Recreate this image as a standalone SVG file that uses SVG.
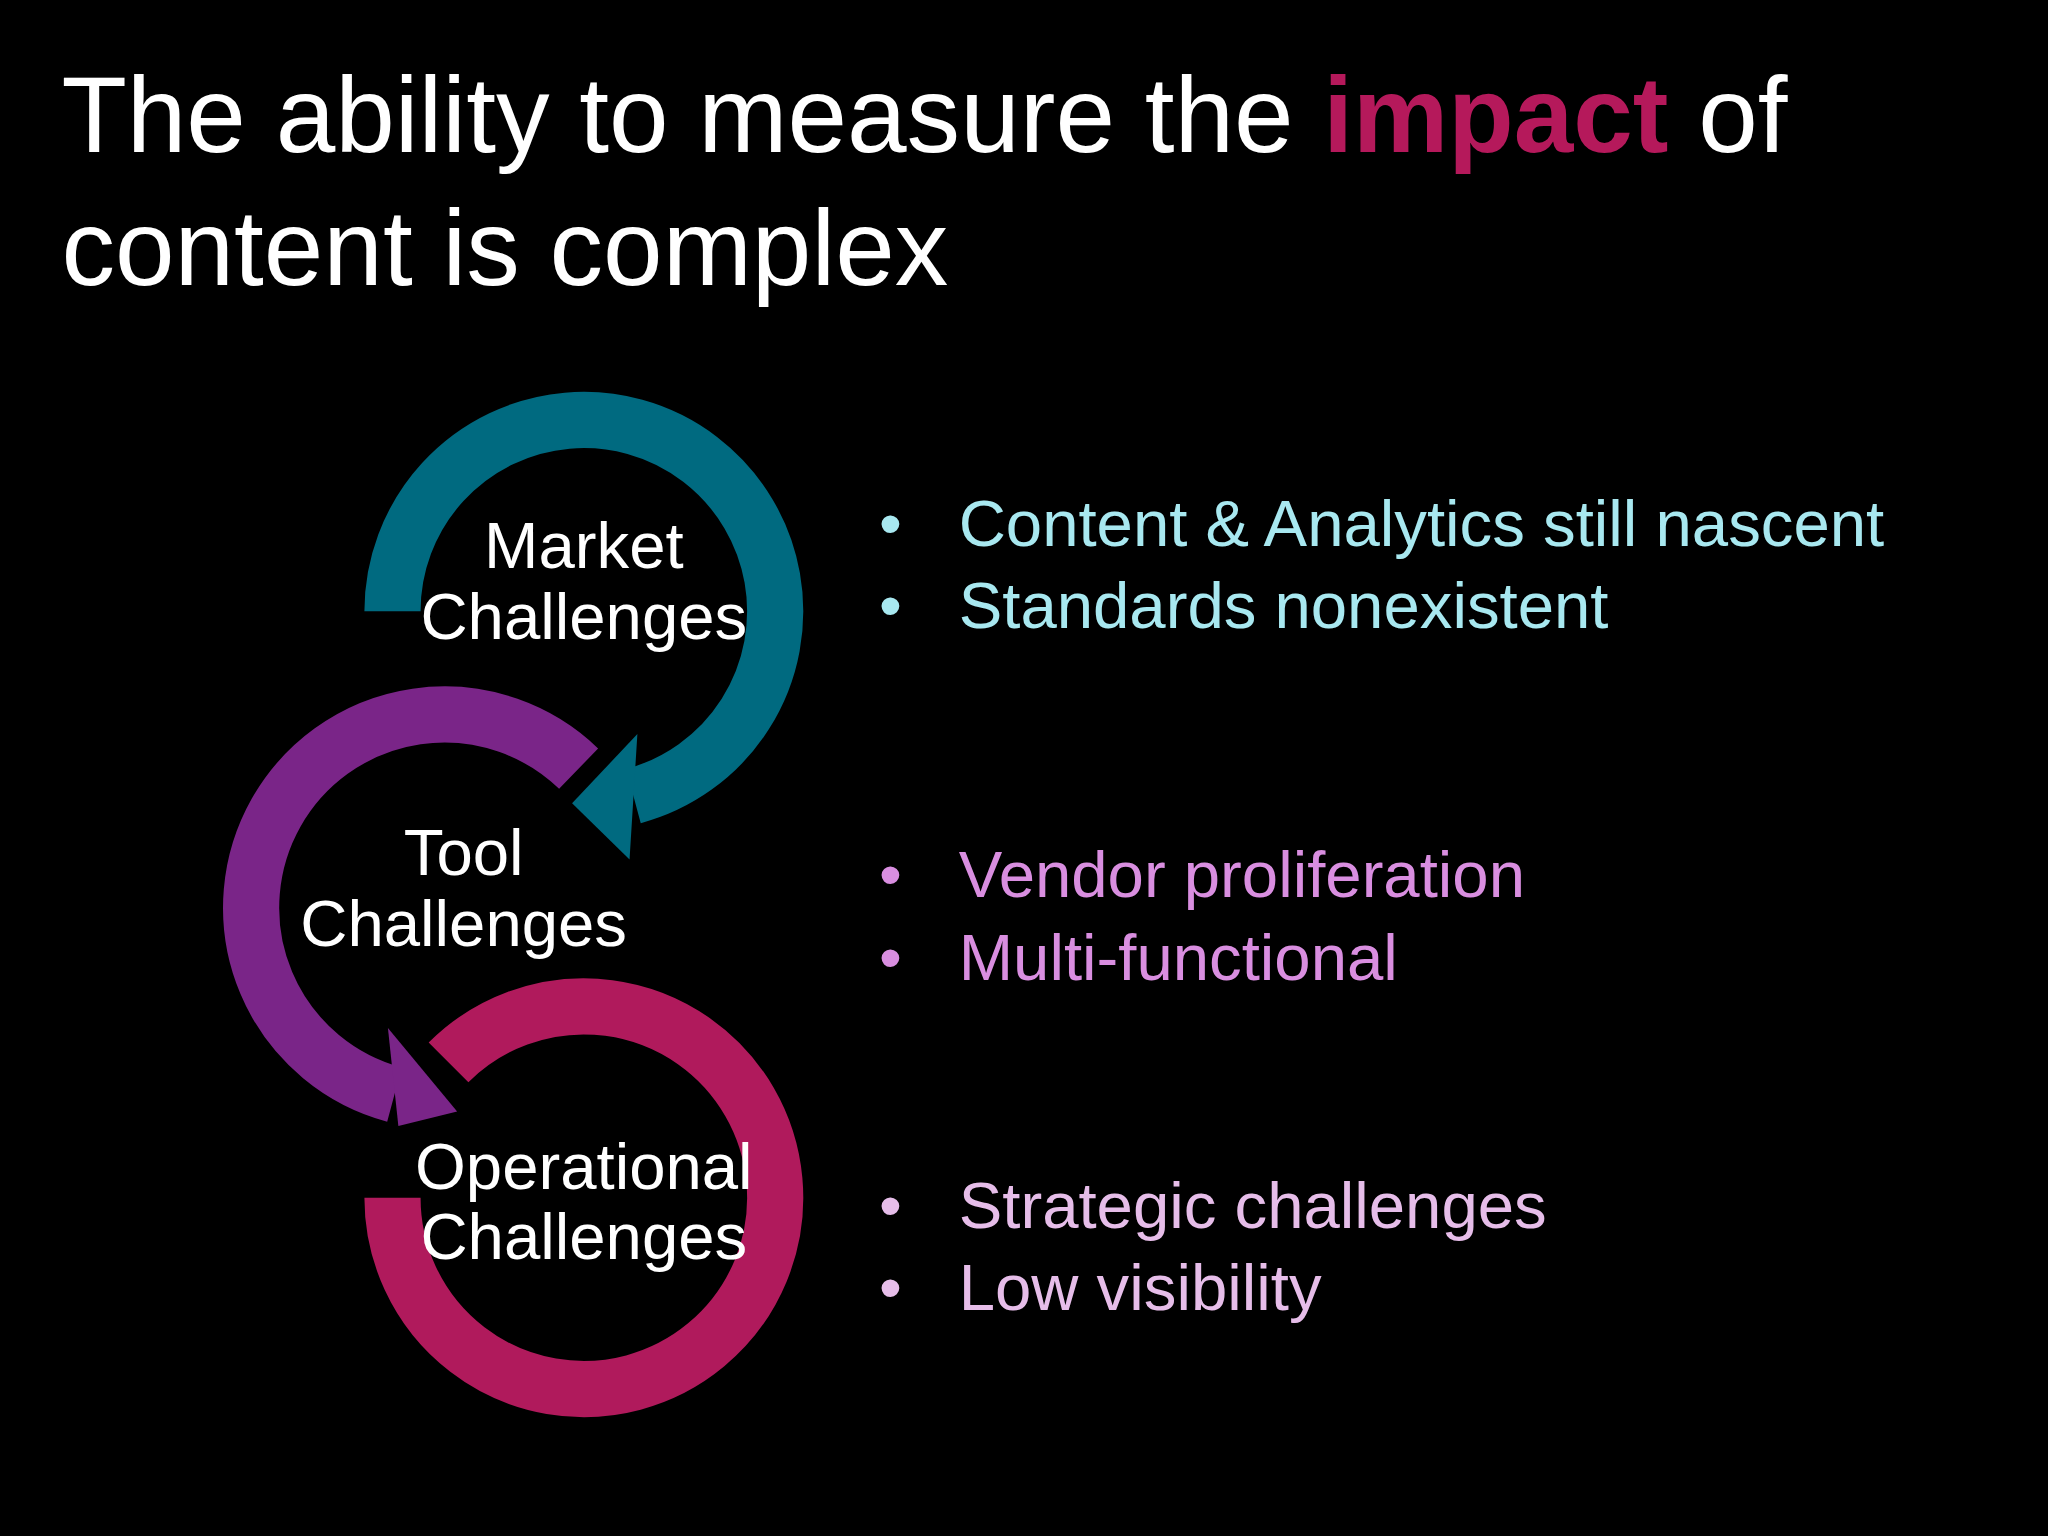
<svg xmlns="http://www.w3.org/2000/svg" width="2048" height="1536" viewBox="0 0 2048 1536">
<style>
text{font-family:"Liberation Sans",Arial,sans-serif}
.t{fill:#fff;font-size:82px}
.l{fill:#fff;font-size:50px;text-anchor:middle}
.b{font-size:50px}
.ring{fill:none;stroke-width:43}
</style>
<rect width="2048" height="1536" fill="#000"/>
<g transform="scale(1.30612)">
<g id="title">
<text class="t" x="47" y="116">The ability to measure the <tspan fill="#b5195b" font-weight="bold">impact</tspan> of</text>
<text class="t" x="47" y="218">content is complex</text>
</g>
<g id="connectors">
<path class="ring" stroke="#006a80" d="M300.5,468 A146.5,146.5 0 1 1 485,609.5"/>
<polygon fill="#006a80" points="488,562 438,615 482,658"/>
<path class="ring" stroke="#7a2588" d="M443,588.5 A148,148 0 1 0 302,838"/>
<polygon fill="#7a2588" points="297,787 350,851 305,862"/>
<path class="ring" stroke="#b01a5c" d="M343.4,813.4 A146.5,146.5 0 1 1 300.5,917"/>
</g>
<g id="market"><text class="l" x="447" y="435">Market</text><text class="l" x="447" y="489">Challenges</text></g>
<g id="tool"><text class="l" x="355" y="670">Tool</text><text class="l" x="355" y="724">Challenges</text></g>
<g id="operational"><text class="l" x="447" y="910">Operational</text><text class="l" x="447" y="964">Challenges</text></g>
<g id="bullets1" fill="#a8e8f0"><text class="b" x="673" y="418">•</text><text class="b" x="734" y="418">Content &amp; Analytics still nascent</text><text class="b" x="673" y="481">•</text><text class="b" x="734" y="481">Standards nonexistent</text></g>
<g id="bullets2" fill="#d98ee0"><text class="b" x="673" y="687">•</text><text class="b" x="734" y="687">Vendor proliferation</text><text class="b" x="673" y="750">•</text><text class="b" x="734" y="750">Multi-functional</text></g>
<g id="bullets3" fill="#e6bde9"><text class="b" x="673" y="940">•</text><text class="b" x="734" y="940">Strategic challenges</text><text class="b" x="673" y="1003">•</text><text class="b" x="734" y="1003">Low visibility</text></g>
</g>
</svg>
